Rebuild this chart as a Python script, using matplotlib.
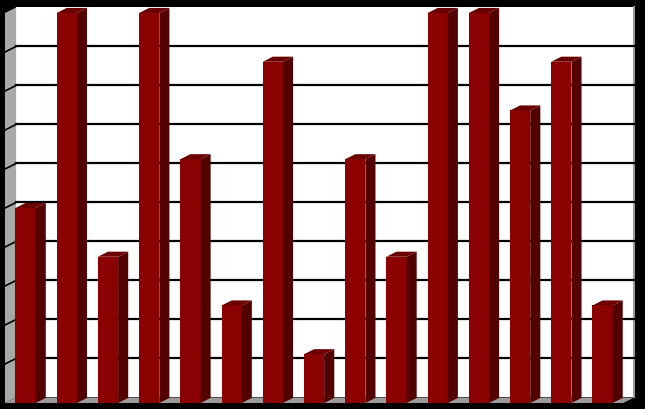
import numpy as np
import matplotlib
matplotlib.use("Agg")
import matplotlib.pyplot as plt
from matplotlib.patches import Polygon, Rectangle

# share of answers per item (%)
items = ["1", "2", "3", "4", "5", "6", "7", "8", "9", "10", "11", "12", "13", "14", "15"]
values = [50, 100, 37.5, 100, 62.5, 25, 87.5, 12.5, 62.5, 37.5, 100, 100, 75, 87.5, 25]
grid_ticks = [10, 20, 30, 40, 50, 60, 70, 80, 90, 100]

# fake 3D look (depth offset in data units)
depth_x = 0.27
depth_y = 1.41
bar_w = 0.49
bar_dx = 0.245
bar_dy = 1.3

front_col = "#8b0000"
side_col = "#520000"
top_col = "#6a0000"

fig = plt.figure(figsize=(6.45, 4.09), dpi=100, facecolor="black")
ax = fig.add_axes([0, 0, 1, 1])
ax.set_facecolor("black")
ax.set_xlim(-0.621, 15.03)
ax.set_ylim(-1.54, 103.33)
ax.axis("off")

n = len(items)
x = np.arange(n)
left, right = -0.5, n - 0.5

# back wall
ax.add_patch(Rectangle((left + depth_x, depth_y), right - left, 100,
                       facecolor="white", edgecolor="none", zorder=1))
ax.plot([right + depth_x, right + depth_x], [depth_y, 100 + depth_y], color="#9a9a9a", lw=1.5, zorder=1)
# left side wall
ax.add_patch(Polygon([(left, 0), (left + depth_x, depth_y), (left + depth_x, 100 + depth_y), (left, 100)],
                     closed=True, facecolor="#a9a9a9", edgecolor="none", zorder=1))
# floor
ax.add_patch(Polygon([(left, 0), (right, 0), (right + depth_x, depth_y), (left + depth_x, depth_y)],
                     closed=True, facecolor="#9c9c9c", edgecolor="none", zorder=1))

# gridlines on back wall and side wall
for g in grid_ticks[:-1]:
    ax.plot([left + depth_x, right + depth_x], [g + depth_y, g + depth_y], color="black", lw=1.6, zorder=2)
    ax.plot([left, left + depth_x], [g, g + depth_y], color="black", lw=1.2, zorder=2)

# front faces
ax.bar(x, values, width=bar_w, color=front_col, edgecolor="none", zorder=3)

# side and top faces
for xi, v in zip(x, values):
    xl = xi - bar_w / 2
    xr = xi + bar_w / 2
    ax.add_patch(Polygon([(xr, 0), (xr + bar_dx, bar_dy), (xr + bar_dx, v + bar_dy), (xr, v)],
                         closed=True, facecolor=side_col, edgecolor="none", zorder=3))
    ax.add_patch(Polygon([(xl, v), (xr, v), (xr + bar_dx, v + bar_dy), (xl + bar_dx, v + bar_dy)],
                         closed=True, facecolor=top_col, edgecolor="none", zorder=3))

fig.savefig("out.png", dpi=100, facecolor="black")
